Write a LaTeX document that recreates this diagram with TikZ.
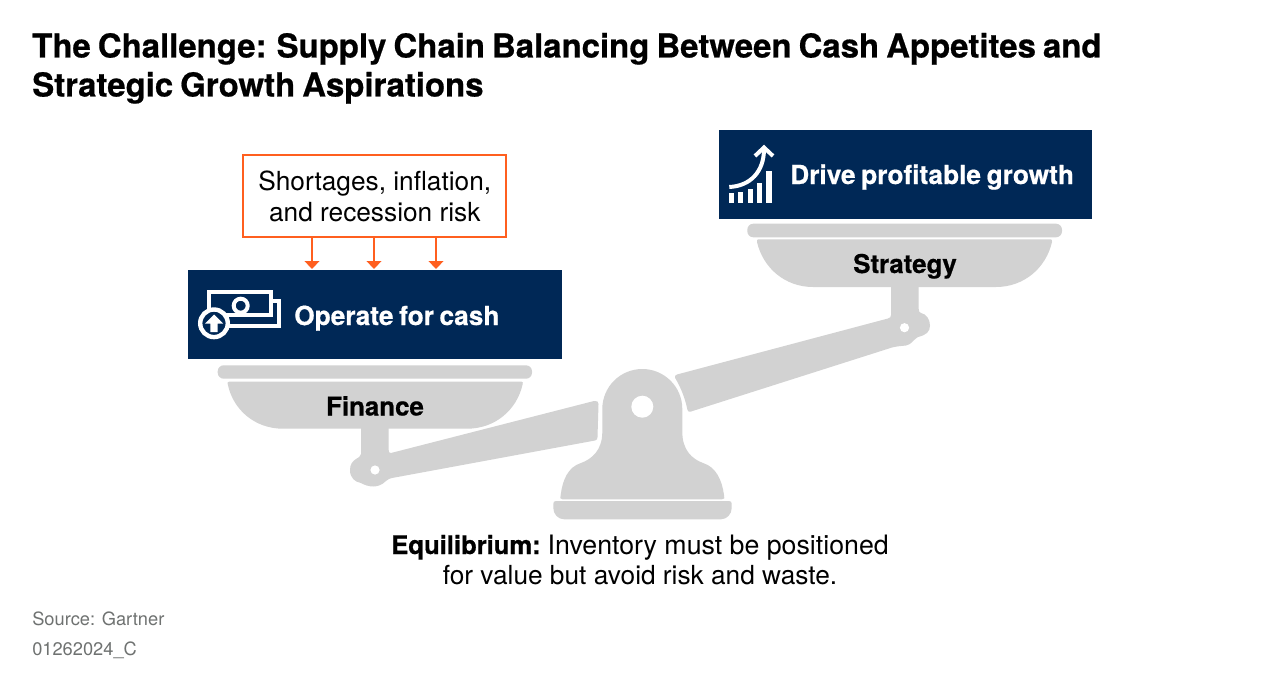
\documentclass[tikz,border=0pt]{standalone}
\usepackage{fontspec}
\setmainfont[BoldFeatures={FakeBold=0.6,WordSpace=0.77}]{TeX Gyre Heros}
\usetikzlibrary{arrows.meta}
\definecolor{navy}{HTML}{002856}
\definecolor{scalegray}{HTML}{D2D2D2}
\definecolor{riskorange}{HTML}{FF5F1F}
\definecolor{notegray}{HTML}{6F7271}
\tikzset{
  x=0.75pt,y=-0.75pt,
  navybox/.style={fill=navy,draw=none,minimum width=280.1pt,minimum height=66.6pt,inner sep=0pt,anchor=north west},
  boxtext/.style={text=white,font=\bfseries\fontsize{19.7pt}{22pt}\selectfont,anchor=base west,inner sep=0pt},
  pantext/.style={text=black,font=\bfseries\fontsize{19.4pt}{22pt}\selectfont,anchor=base,inner sep=0pt},
  titletext/.style={font=\bfseries\fontsize{24.7pt}{29.25pt}\selectfont,anchor=base west,inner sep=0pt,align=left},
  bodytext/.style={font=\fontsize{19.7pt}{22.5pt}\selectfont,inner sep=0pt,align=center},
  notetext/.style={text=notegray,font=\fontsize{13.7pt}{16pt}\selectfont,anchor=base west,inner sep=0pt},
  arr/.style={riskorange,line width=1.5pt,-{Triangle[length=6pt,width=11pt]}},
  scalepart/.style={fill=scalegray,draw=none},
  hole/.style={fill=white,draw=none},
  iconline/.style={draw=white,line width=3pt},
}
\begin{document}
\begin{tikzpicture}
\useasboundingbox[fill=white] (0,0) rectangle (1280,688);
% title
\node[titletext] (title) at (32,96.5) {The Challenge: Supply Chain Balancing Between Cash Appetites and\\Strategic Growth Aspirations};
% left pan
\fill[scalepart,rounded corners=4.5pt] (217.7,365.3) rectangle (532,378.7);
\fill[scalepart] (229,381.7) -- (521.5,381.7) .. controls (523,381.7) and (523,383) .. (522.7,384) .. controls (517,410) and (495,428.7) .. (467,428.7) -- (283,428.7) .. controls (255,428.7) and (233,410) .. (227.7,384) .. controls (227.4,383) and (227.6,381.7) .. (229,381.7) -- cycle;
\fill[scalepart] (361,427) -- (361,454) .. controls (361,459) and (350,458) .. (350,470) .. controls (350,478) and (355,482) .. (361,483) .. controls (368,487) and (378,489) .. (386,481) .. controls (388,479) and (390,478.5) .. (392,478) -- (595,440.5) .. controls (597,440) and (597.5,439) .. (597.5,437) -- (598.5,404) .. controls (598.5,401.5) and (597,400.5) .. (594,401) -- (391,453) .. controls (389,453.3) and (388.7,452) .. (388.7,450) -- (388.7,427) -- cycle;
\fill[hole] (375,470) circle[radius=4.6];
% right pan
\fill[scalepart,rounded corners=4.5pt] (747.3,223.7) rectangle (1062,237.3);
\fill[scalepart] (758.5,239.3) -- (1050.5,239.3) .. controls (1052,239.3) and (1052.3,240.5) .. (1052,242) .. controls (1046,268) and (1024,287) .. (996,287) -- (813,287) .. controls (785,287) and (763,268) .. (757,242) .. controls (756.7,240.5) and (757,239.3) .. (758.5,239.3) -- cycle;
\fill[scalepart] (891,285) -- (891,315) .. controls (891,317) and (890,318) .. (888,318.5) -- (677,374.5) .. controls (675,375) and (674.5,376.5) .. (675.2,378) .. controls (681,388) and (685,398) .. (687.5,410) .. controls (688,411.5) and (689,412) .. (691,411.5) -- (892,347.5) .. controls (898,346) and (902,346) .. (906,345.5) .. controls (911,345) and (914,339) .. (918,337) .. controls (926,335) and (930,332) .. (930,325.5) .. controls (930,319) and (926,314) .. (921,313) .. controls (919.5,312.5) and (918.7,311.5) .. (918.7,309) -- (918.7,285) -- cycle;
\fill[hole] (904.5,327.7) circle[radius=4.6];
% fulcrum
\fill[scalepart] (602.3,409) arc[start angle=180,end angle=360,radius=40] -- (682.3,432) .. controls (682.3,450) and (692,459) .. (703,463) .. controls (716,467) and (722,480) .. (724,495) .. controls (724.5,498) and (725,499.3) .. (722,499.3) -- (562.5,499.3) .. controls (559.5,499.3) and (560.2,498) .. (560.7,495) .. controls (562.5,480) and (568,467) .. (581,463) .. controls (592,459) and (602.3,450) .. (602.3,432) -- cycle;
\fill[hole] (642.3,406.7) circle[radius=11];
\fill[scalepart] (556,501) -- (729,501) .. controls (731,501) and (731.7,502) .. (731.7,504) -- (731.7,508) .. controls (731.7,514) and (727,519.3) .. (721,519.3) -- (564,519.3) .. controls (558,519.3) and (553.3,514) .. (553.3,508) -- (553.3,504) .. controls (553.3,502) and (554,501) .. (556,501) -- cycle;
% risk box
\node[draw=riskorange,line width=1.5pt,minimum width=197.6pt,minimum height=61.5pt,inner sep=0pt,bodytext,font=\fontsize{19.7pt}{23.25pt}\selectfont] (risk) at (374.75,196) {\raisebox{-2.2pt}{Shortages, inflation,}\\\raisebox{-2.2pt}{and recession risk}};
% boxes
\node[navybox] (cash) at (188,270) {};
\node[navybox] (drive) at (718.5,130) {};
\coordinate (arrA) at (312,269);
\coordinate (arrB) at (374,269);
\coordinate (arrC) at (436,269);
\draw[arr] (arrA |- risk.south) -- (arrA);
\draw[arr] (arrB |- risk.south) -- (arrB);
\draw[arr] (arrC |- risk.south) -- (arrC);
\node[boxtext] (cashtext) at (294,325) {Operate for cash};
\node[boxtext] (drivetext) at (790,184) {Drive profitable growth};
\node[pantext] (finance) at (375,415.5) {Finance};
\node[pantext] (strategy) at (905,273) {Strategy};
% cash icon
\draw[iconline] (209.3,292) rectangle (271.3,315);
\draw[iconline] (273,301) -- (278.7,301) -- (278.7,325.7) -- (228,325.7);
\draw[iconline] (240.7,305.7) circle[radius=7];
\draw[draw=white,fill=navy,line width=3.3pt] (214,323.3) circle[radius=13.8];
\fill[white] (214,314.5) -- (223,323.5) -- (217.7,323.5) -- (217.7,332) -- (210.3,332) -- (210.3,323.5) -- (205,323.5) -- cycle;
% growth icon
\fill[white] (729.3,193.3) rectangle (734,203.3);
\fill[white] (738.3,192.3) rectangle (743.3,203.3);
\fill[white] (748,189) rectangle (752.7,203.3);
\fill[white] (757,183.3) rectangle (762.3,203.3);
\fill[white] (766.3,170.7) rectangle (771.7,203.3);
\draw[iconline] (729.3,187) .. controls (750,186) and (764,172) .. (764,149);
\draw[iconline,line join=miter] (755,156) -- (764,147.5) -- (773,156);
% caption
\node[bodytext,anchor=base] (equil) at (640,584) {\textbf{\fontsize{19.2pt}{22.5pt}\selectfont Equilibrium:}\hspace{5.2pt}{\fontsize{20.05pt}{22.5pt}\selectfont Inventory must be positioned}\\for value but avoid risk and waste.};
\node[notetext] (source) at (32,625.7) {Source: Gartner};
\node[notetext] (code) at (32,655.7) {01262024\_C};
\end{tikzpicture}
\end{document}
